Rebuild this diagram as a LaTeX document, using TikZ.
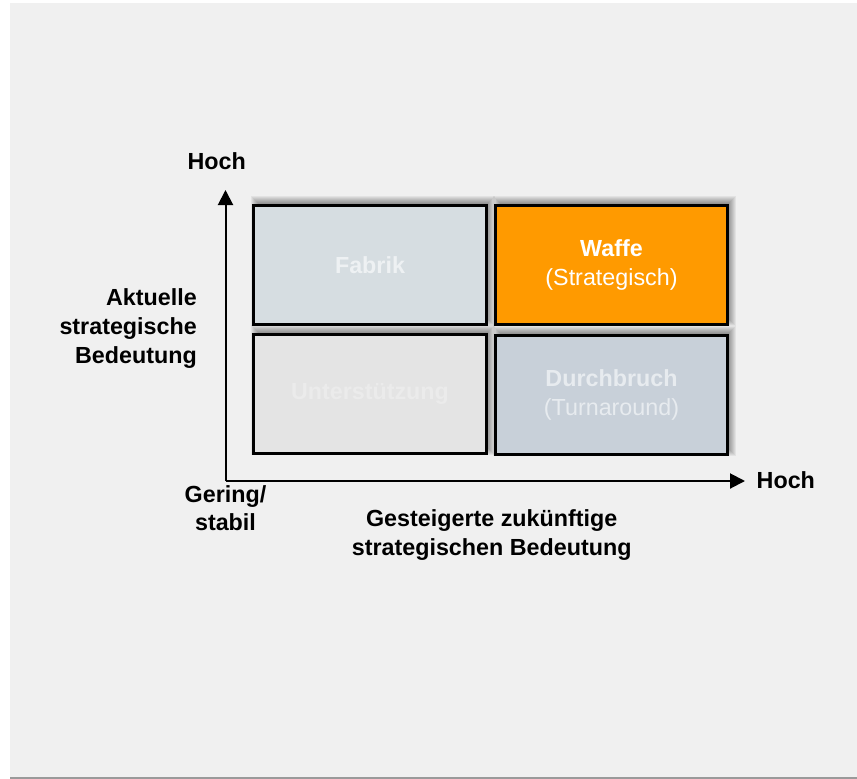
\documentclass[tikz,border=0pt]{standalone}
\usepackage{fontspec}
\setmainfont{Liberation Sans}
\usetikzlibrary{arrows.meta,calc}
\pgfdeclarelayer{bg}
\pgfsetlayers{bg,main}
\definecolor{panel}{HTML}{F0F0F0}
\definecolor{panelline}{HTML}{9A9A9A}
\definecolor{fabrikfill}{HTML}{D6DDE1}
\definecolor{waffefill}{HTML}{FF9A00}
\definecolor{unterfill}{HTML}{E4E4E4}
\definecolor{durchfill}{HTML}{C8D0D9}
\definecolor{fabriktext}{HTML}{EEF1F3}
\definecolor{untertext}{HTML}{EBEBEB}
\definecolor{durchtext}{HTML}{E7EBEF}
\tikzset{
  quad/.style={draw=black, line width=3pt, minimum width=233pt, minimum height=119pt,
    inner sep=0pt, align=center},
  softshade/.style={fill=black, opacity=0.055},
  lbl/.style={inner sep=0pt, font=\bfseries},
  axis/.style={line width=2pt, -{Triangle[width=15pt,length=15pt]}}
}
\begin{document}
\begin{tikzpicture}[x=1pt,y=1pt]
\useasboundingbox (0,0) rectangle (857,-779);
\fontsize{23.3}{28.6}\selectfont
\node[quad, fill=fabrikfill, text=fabriktext] (fabrik) at (370,-265) {\bfseries Fabrik};
\node[quad, fill=waffefill, text=white, minimum width=232pt] (waffe) at (611.5,-265) {\bfseries Waffe\\(Strategisch)};
\node[quad, fill=unterfill, text=untertext] (unter) at (370,-394) {\bfseries Unterstützung};
\node[quad, fill=durchfill, text=durchtext, minimum width=232pt] (durch) at (611.5,-395) {\bfseries Durchbruch\\(Turnaround)};
\begin{pgfonlayer}{bg}
\fill[panel] (10,-3) rectangle (857,-777);
\fill[panelline] (10,-776.5) rectangle (857,-778.5);
\foreach \n in {fabrik,waffe,unter,durch}{
  \foreach \d in {1,...,8}{
    \fill[softshade] ($(\n.south west)+({7-\d},{8-\d})$) rectangle ($(\n.north east)+({\d-1},{\d})$);
  }
}
\end{pgfonlayer}
\coordinate (origin) at (225.5,-481);
\coordinate (ytip) at (225.5,-190);
\coordinate (xtip) at (745,-481);
\draw[axis] (origin) -- (ytip);
\draw[axis] (origin) -- (xtip);
\node[lbl, anchor=base] (yhoch) at (216.7,-169) {Hoch};
\node[lbl, anchor=base west] (xhoch) at (756.5,-488) {Hoch};
\node[lbl, anchor=base east, align=right] (ylabel) at (197,-363) {Aktuelle\\strategische\\Bedeutung};
\node[lbl, anchor=base, align=center] (gering) at (225.5,-530.7) {Gering/\\stabil};
\node[lbl, anchor=base, align=center] (xlabel) at (491.7,-555) {Gesteigerte zukünftige\\strategischen Bedeutung};
\end{tikzpicture}
\end{document}
